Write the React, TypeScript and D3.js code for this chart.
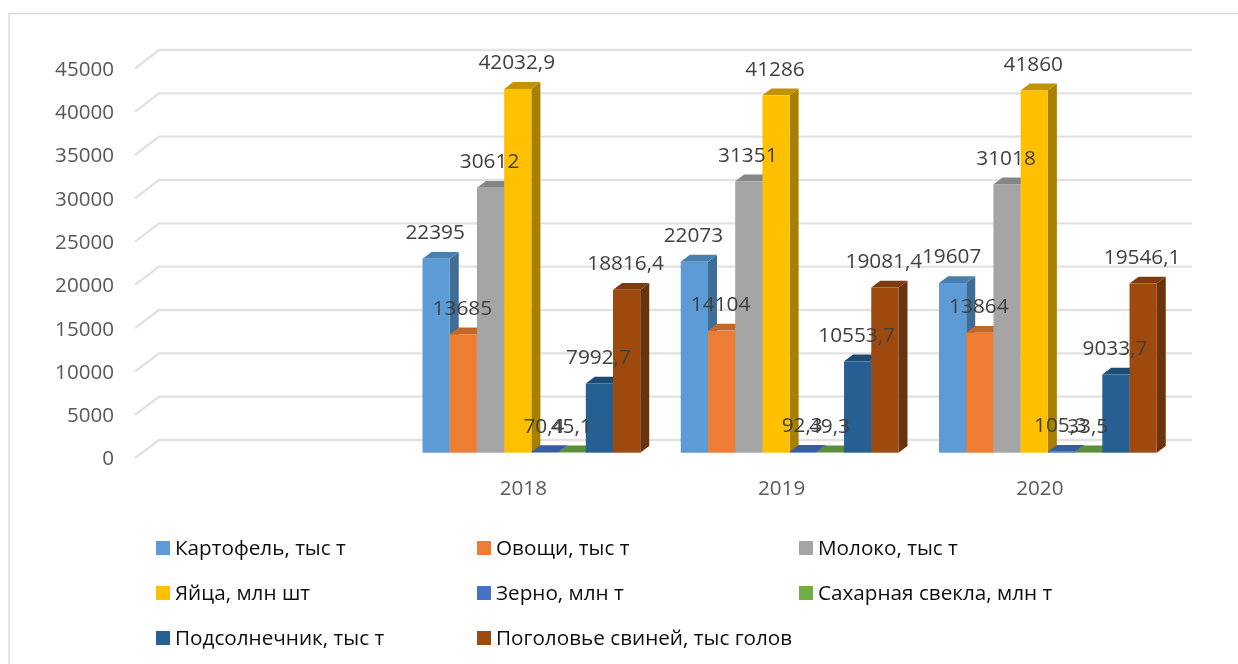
import React from "react";
import * as d3 from "d3";

const W = 1238, H = 664;
const categories = ["", "2018", "2019", "2020"];
const yTicks = [0, 5000, 10000, 15000, 20000, 25000, 30000, 35000, 40000, 45000];
const seriesNames = ["Картофель, тыс т", "Овощи, тыс т", "Молоко, тыс т", "Яйца, млн шт", "Зерно, млн т", "Сахарная свекла, млн т", "Подсолнечник, тыс т", "Поголовье свиней, тыс голов"];
const frontColors = ["#5b9bd5", "#ed7d31", "#a5a5a5", "#ffc000", "#4472c4", "#70ad47", "#255e91", "#9e480e"];
const sideColors = ["#3f6d96", "#a85823", "#757575", "#a88000", "#30508a", "#4f7a32", "#1a4367", "#6a3009"];
const topColors = ["#4a7fae", "#c4672a", "#868686", "#c29300", "#375d9f", "#5b8d3a", "#1e4c76", "#7f3a0b"];
const potato = [22395, 22073, 19607];
const vegetables = [13685, 14104, 13864];
const milk = [30612, 31351, 31018];
const eggs = [42032.9, 41286, 41860];
const grain = [70.4, 92.3, 105.3];
const beet = [45.1, 49.3, 33.5];
const sunflower = [7992.7, 10553.7, 9033.7];
const pigs = [18816.4, 19081.4, 19546.1];
const seriesValues = [potato, vegetables, milk, eggs, grain, beet, sunflower, pigs];
const years = categories.slice(1);

const fmt = (v: number) => String(v).replace(".", ",");

const x = d3.scaleBand<string>().domain(categories).range([135, 1168]).paddingInner(0.157).paddingOuter(0.0785);
const inner = d3.scaleBand<string>().domain(seriesNames).range([0, x.bandwidth()]);
const yBar = d3.scaleLinear().domain([0, 45000]).range([452.7, 63.2]);
const yWall = d3.scaleLinear().domain([0, 45000]).range([440, 50]);
const yTip = d3.scaleLinear().domain([0, 45000]).range([458, 68.5]);

const wallDx = 24;
const depthX = 9, depthY = 6.8, barShift = 9;
const textCol = "#404040";
const font = "'Open Sans', sans-serif";
const legendCols = [156, 477, 799];
const legendRows = [548, 593, 638];

export default function App() {
  const bw = inner.bandwidth();
  const gridLine = d3.line();
  return (
    <svg width={W} height={H} viewBox={`0 0 ${W} ${H}`} style={{ position: "absolute", left: 0, top: 0, background: "#fff" }} fontFamily={font}>
      <defs>
        <filter id="soft" x="0" y="0" width="100%" height="100%" filterUnits="userSpaceOnUse" primitiveUnits="userSpaceOnUse">
          <feGaussianBlur stdDeviation="0.55" />
        </filter>
      </defs>
      <g filter="url(#soft)">
        <path d={gridLine([[9, H], [9, 13.5], [W, 13.5]]) || ""} fill="none" stroke="#d9d9d9" strokeWidth={1.3} />
        {yTicks.map((t) => (
          <path key={t} d={gridLine([[135, yTip(t)], [135 + wallDx, yWall(t)], [1192, yWall(t)]]) || ""} fill="none" stroke="#e2e2e2" strokeWidth={2.4} />
        ))}
        {years.map((yr, yi) =>
          seriesNames.map((name, si) => {
            const v = seriesValues[si][yi];
            const x0 = (x(yr) as number) + barShift + (inner(name) as number);
            const x1 = x0 + bw;
            const yt = yBar(v), yb = yBar(0);
            return (
              <g key={yr + name}>
                <path d={gridLine([[x1, yt], [x1 + depthX, yt - depthY], [x1 + depthX, yb - depthY], [x1, yb]]) + "Z"} fill={sideColors[si]} />
                <path d={gridLine([[x0, yt], [x0 + depthX, yt - depthY], [x1 + depthX, yt - depthY], [x1, yt]]) + "Z"} fill={topColors[si]} />
                <rect x={x0} y={yt} width={bw} height={yb - yt} fill={frontColors[si]} />
              </g>
            );
          })
        )}
        {yTicks.map((t) => (
          <text key={t} x={114} y={yTip(t)} dy="0.36em" textAnchor="end" fontSize={20.6} fill="#595959">{t}</text>
        ))}
        {years.map((yr) => (
          <text key={yr} x={(x(yr) as number) + x.bandwidth() / 2 + 1} y={488} dy="0.36em" textAnchor="middle" fontSize={20.6} fill="#595959">{yr}</text>
        ))}
        {years.map((yr, yi) =>
          seriesNames.map((name, si) => {
            const v = seriesValues[si][yi];
            const cx = (x(yr) as number) + barShift + (inner(name) as number) + bw / 2;
            return (
              <text key={yr + name} x={cx - 1} y={yBar(v) - 19.5} textAnchor="middle" fontSize={20.8} fill={textCol}>{fmt(v)}</text>
            );
          })
        )}
        {seriesNames.map((name, i) => {
          const cx = legendCols[i % 3];
          const cy = legendRows[Math.floor(i / 3)];
          return (
            <g key={name}>
              <rect x={cx} y={cy - 7} width={14} height={14} fill={frontColors[i]} />
              <text x={cx + 19} y={cy} dy="0.36em" fontSize={20.7} fill="#111">{name}</text>
            </g>
          );
        })}
      </g>
    </svg>
  );
}
